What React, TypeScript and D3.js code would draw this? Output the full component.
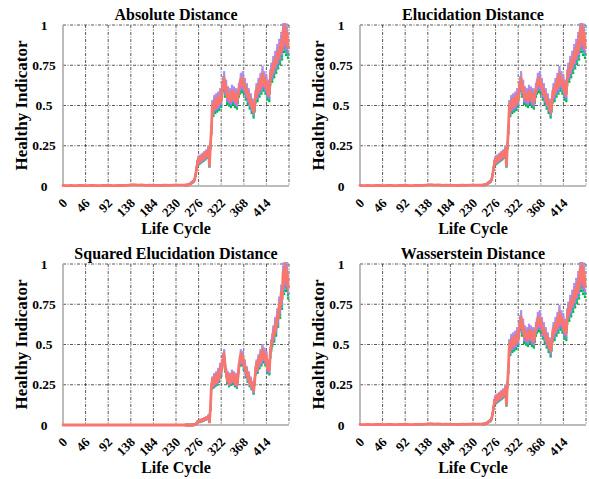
import React from "react";
import * as d3 from "d3";

// ---------- data ----------
const panelTitles = [
  "Absolute Distance",
  "Elucidation Distance",
  "Squared Elucidation Distance",
  "Wasserstein Distance",
];
const xTicks = [0, 46, 92, 138, 184, 230, 276, 322, 368, 414];
const xDomain = [0, 460];
const yTicks = [0, 0.25, 0.5, 0.75, 1];
const yTickLabels = ["0", "0.25", "0.5", "0.75", "1"];
const xLabel = "Life Cycle";
const yLabel = "Healthy Indicator";

// healthy phase: cycles 0..248, every 8 cycles
const flatStart = 0;
const flatStep = 8;
const distanceFlat = [
  0.003, 0.002, 0.003, 0.002, 0.003, 0.003, 0.002, 0.003, 0.003, 0.002,
  0.003, 0.003, 0.003, 0.002, 0.003, 0.003, 0.004, 0.006, 0.008, 0.005,
  0.007, 0.004, 0.005, 0.004, 0.004, 0.003, 0.005, 0.004, 0.006, 0.005,
  0.006, 0.005,
];
const squaredFlat = [
  0, 0, 0, 0, 0, 0, 0, 0, 0, 0,
  0, 0, 0, 0, 0, 0, 0, 0, 0, 0,
  0, 0, 0, 0, 0, 0, 0, 0, 0, 0,
  0, 0,
];

// degradation phase: cycles 250..458, every 2 cycles
const degradeStart = 250;
const degradeStep = 2;
const distanceDegrade = [
  0.006, 0.004, 0.007, 0.008, 0.01, 0.015, 0.02, 0.025, 0.03, 0.04,
  0.07, 0.11, 0.15, 0.17, 0.15, 0.18, 0.16, 0.19, 0.17, 0.2,
  0.18, 0.21, 0.19, 0.23, 0.13, 0.25, 0.35, 0.5, 0.47, 0.53,
  0.49, 0.54, 0.5, 0.55, 0.51, 0.57, 0.53, 0.6, 0.64, 0.67,
  0.6, 0.62, 0.55, 0.58, 0.54, 0.57, 0.53, 0.59, 0.55, 0.58,
  0.53, 0.57, 0.52, 0.56, 0.6, 0.62, 0.66, 0.63, 0.67, 0.62,
  0.63, 0.58, 0.6, 0.55, 0.57, 0.52, 0.54, 0.49, 0.51, 0.46,
  0.5, 0.56, 0.6, 0.57, 0.63, 0.6, 0.66, 0.62, 0.7, 0.64,
  0.67, 0.62, 0.65, 0.58, 0.62, 0.57, 0.68, 0.72, 0.7, 0.76,
  0.73, 0.79, 0.76, 0.83, 0.79, 0.86, 0.82, 0.9, 0.85, 0.97,
  0.9, 1.0, 0.88, 0.95, 0.86,
];
const squaredDegrade = [
  0, 0, 0, 0, 0, 0, 0, 0, 0.001, 0.001,
  0.003, 0.01, 0.02, 0.025, 0.02, 0.03, 0.025, 0.035, 0.03, 0.04,
  0.035, 0.045, 0.04, 0.055, 0.02, 0.1, 0.24, 0.28, 0.25, 0.3,
  0.26, 0.31, 0.27, 0.33, 0.29, 0.36, 0.33, 0.38, 0.42, 0.44,
  0.36, 0.33, 0.28, 0.31, 0.26, 0.3, 0.27, 0.32, 0.28, 0.31,
  0.26, 0.3, 0.25, 0.29, 0.36, 0.4, 0.44, 0.4, 0.43, 0.37,
  0.38, 0.32, 0.34, 0.29, 0.31, 0.26, 0.28, 0.24, 0.25, 0.21,
  0.27, 0.34, 0.38, 0.35, 0.41, 0.38, 0.44, 0.4, 0.47, 0.42,
  0.45, 0.4, 0.43, 0.35, 0.38, 0.34, 0.45, 0.5, 0.53, 0.58,
  0.56, 0.63, 0.6, 0.68, 0.66, 0.75, 0.72, 0.82, 0.78, 0.95,
  0.88, 1.0, 0.9, 0.96, 0.85,
];

// per-sensor relative deviation from the main curve (drawn bottom to top)
const seriesColors = ["#00BA38", "#00BFC4", "#B79F00", "#619CFF", "#D46BE8", "#B98AE6", "#F8766D"];
const seriesSpread = [-0.075, -0.05, 0.015, 0.035, -0.035, 0.055, 0];

// ---------- layout ----------
const W = 589;
const H = 479;
const FONT = "'Liberation Serif', 'Times New Roman', serif";

const panelBoxes = [
  { left: 63, top: 25, width: 226, height: 161 },
  { left: 360, top: 25, width: 226, height: 161 },
  { left: 63, top: 264, width: 226, height: 161 },
  { left: 360, top: 264, width: 226, height: 161 },
];
const panelData = [
  [distanceFlat, distanceDegrade],
  [distanceFlat, distanceDegrade],
  [squaredFlat, squaredDegrade],
  [distanceFlat, distanceDegrade],
];

type Pt = { c: number; v: number };

function buildSeries(flat: number[], degrade: number[]): Pt[] {
  const pts: Pt[] = flat.map((v, i) => ({ c: flatStart + i * flatStep, v }));
  degrade.forEach((v, i) => pts.push({ c: degradeStart + i * degradeStep, v }));
  return pts;
}

function Panel({ idx }: { idx: number }) {
  const b = panelBoxes[idx];
  const x = d3.scaleLinear().domain(xDomain).range([b.left, b.left + b.width]);
  const y = d3.scaleLinear().domain([0, 1]).range([b.top + b.height, b.top]);
  const base = buildSeries(panelData[idx][0], panelData[idx][1]);
  const line = d3
    .line<Pt>()
    .x((d) => x(d.c))
    .y((d) => y(d.v));
  const clipId = `clip${idx}`;
  const gridColor = "#2e2e2e";
  const dash = "3,1.5,1,1.5";
  const bottom = b.top + b.height;
  const cx = b.left + b.width / 2;
  const last = seriesColors.length - 1;
  return (
    <g>
      <defs>
        <clipPath id={clipId}>
          <rect x={b.left - 2} y={b.top - 2} width={b.width + 4} height={b.height + 4} />
        </clipPath>
      </defs>
      <rect x={b.left} y={b.top} width={b.width} height={b.height} fill="#fff" />
      {/* grid */}
      {[...xTicks, xDomain[1]].map((t) =>
        t === 0 ? null : (
          <line key={"gx" + t} x1={x(t)} x2={x(t)} y1={b.top} y2={bottom} stroke={gridColor} strokeWidth={0.8} strokeDasharray={dash} />
        )
      )}
      {yTicks.map((t) =>
        t === 0 ? null : (
          <line key={"gy" + t} x1={b.left} x2={b.left + b.width} y1={y(t)} y2={y(t)} stroke={gridColor} strokeWidth={0.8} strokeDasharray={dash} />
        )
      )}
      {/* axes */}
      <line x1={b.left} x2={b.left} y1={b.top} y2={bottom} stroke="#a6a6a6" strokeWidth={1.5} />
      <line x1={b.left} x2={b.left + b.width} y1={bottom} y2={bottom} stroke="#a6a6a6" strokeWidth={1.5} />
      {/* data */}
      <g clipPath={`url(#${clipId})`}>
        {seriesColors.map((col, k) => {
          const pts = base.map((p) => ({ c: p.c, v: p.v * (1 + seriesSpread[k]) }));
          if (k === last) {
            return (
              <path
                key={k}
                d={line(pts) || ""}
                fill="none"
                stroke={col}
                strokeWidth={2.8}
                strokeLinejoin="round"
                strokeLinecap="round"
              />
            );
          }
          return (
            <g key={k}>
              <path d={line(pts) || ""} fill="none" stroke={col} strokeWidth={1.2} strokeOpacity={0.8} />
              {pts
                .filter((p) => p.c >= degradeStart)
                .map((p, j) => (
                  <rect key={j} x={x(p.c) - 1.1} y={y(p.v) - 1.1} width={2.2} height={2.2} fill={col} />
                ))}
            </g>
          );
        })}
      </g>
      {/* y tick labels */}
      {yTicks.map((t, i) => (
        <text key={"yl" + t} x={b.left - 19} y={y(t) + 4.5} textAnchor="middle" fontSize={13.5} fontWeight="bold" fontFamily={FONT} fill="#000">
          {yTickLabels[i]}
        </text>
      ))}
      {/* x tick labels */}
      {xTicks.map((t) => (
        <text
          key={"xl" + t}
          transform={`translate(${x(t) + 5},${bottom + 18}) rotate(-45)`}
          textAnchor="end"
          fontSize={13}
          fontWeight="bold"
          fontFamily={FONT}
          fill="#000"
        >
          {t}
        </text>
      ))}
      {/* title */}
      <text x={cx} y={b.top - 5} textAnchor="middle" fontSize={16} fontWeight="bold" fontFamily={FONT} fill="#000">
        {panelTitles[idx]}
      </text>
      {/* axis labels */}
      <text x={cx} y={bottom + 48} textAnchor="middle" fontSize={16} fontWeight="bold" fontFamily={FONT} fill="#000">
        {xLabel}
      </text>
      <text
        transform={`translate(${b.left - 36.5},${b.top + b.height / 2}) rotate(-90)`}
        textAnchor="middle"
        fontSize={17}
        fontWeight="bold"
        fontFamily={FONT}
        fill="#000"
      >
        {yLabel}
      </text>
    </g>
  );
}

export default function App() {
  return (
    <svg
      width={W}
      height={H}
      viewBox={`0 0 ${W} ${H}`}
      style={{ position: "absolute", left: 0, top: 0, background: "#fff" }}
    >
      <rect x={0} y={0} width={W} height={H} fill="#fff" />
      {panelBoxes.map((_, i) => (
        <Panel key={i} idx={i} />
      ))}
    </svg>
  );
}
